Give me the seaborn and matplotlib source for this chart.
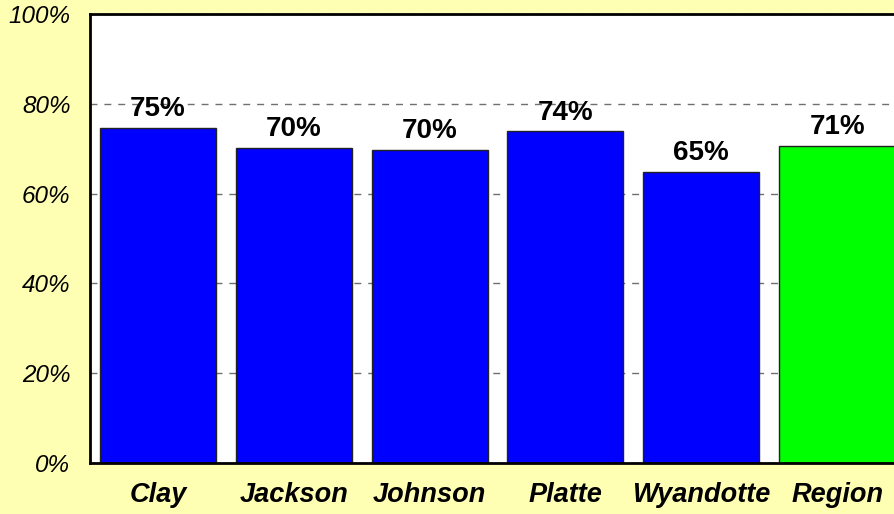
import matplotlib
matplotlib.use("Agg")
import matplotlib.pyplot as plt
import seaborn as sns
import pandas as pd

categories = ["Clay", "Jackson", "Johnson", "Platte", "Wyandotte", "Region"]
values = [74.6, 70.2, 69.7, 73.9, 64.8, 70.6]
labels = ["75%", "70%", "70%", "74%", "65%", "71%"]
colors = ["#0000FF", "#0000FF", "#0000FF", "#0000FF", "#0000FF", "#00FF00"]
yticks = [0, 20, 40, 60, 80, 100]
ytick_labels = ["0%", "20%", "40%", "60%", "80%", "100%"]

sns.set_style("white")
plt.rcParams["font.family"] = ["Liberation Sans", "DejaVu Sans"]
plt.rcParams["text.color"] = "black"
plt.rcParams["xtick.color"] = "black"
plt.rcParams["ytick.color"] = "black"

bg = "#FFFFB4"
fig = plt.figure(figsize=(8.94, 5.14), dpi=100, facecolor=bg)
ax = fig.add_axes([90 / 894, 51 / 514, 815 / 894, 449 / 514])
ax.set_facecolor("white")

df = pd.DataFrame({"cat": categories, "val": values})
sns.barplot(data=df, x="cat", y="val", hue="cat", palette=colors, width=0.855,
            edgecolor="#222222", linewidth=1, legend=False, ax=ax, saturation=1)

ax.set_ylim(0, 100)
ax.set_xlim(-0.5, len(categories) - 0.5)
ax.set_yticks(yticks)
ax.set_yticklabels(ytick_labels, fontsize=17.5, style="italic", color="black")
ax.set_xticks(range(len(categories)))
ax.set_xticklabels(categories, fontsize=19.5, style="italic", fontweight="bold", color="black")
ax.tick_params(axis="y", length=0, pad=14)
ax.tick_params(axis="x", length=0, pad=14)
ax.set_xlabel("")
ax.set_ylabel("")

ax.yaxis.grid(True, linestyle=(0, (5, 5)), color="#707070", linewidth=1)
ax.set_axisbelow(True)

for sp in ["left", "bottom", "top"]:
    ax.spines[sp].set_color("black")
    ax.spines[sp].set_linewidth(2)
ax.spines["right"].set_visible(False)

for i, cont in enumerate(ax.containers):
    ax.bar_label(cont, labels=[labels[i]], padding=4, fontsize=20,
                 fontweight="bold", color="black")

fig.savefig("out.png", dpi=100, facecolor=bg)
